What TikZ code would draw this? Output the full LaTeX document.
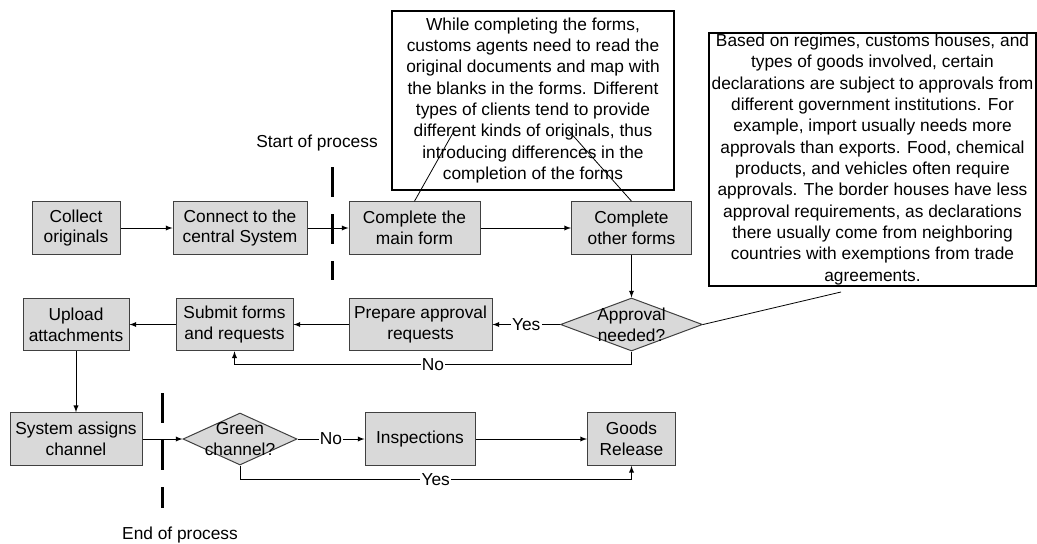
\documentclass[tikz,border=0pt]{standalone}
\usepackage{fontspec}
\setmainfont{Liberation Sans}
\usetikzlibrary{shapes,shapes.geometric,arrows,positioning}

\begin{document}
\begin{tikzpicture}[
    x=0.75pt, y=-0.75pt,
    font=\fontsize{13}{15.5}\selectfont,
    box/.style={draw=black!75, fill=gray!30, line width=0.75pt, minimum height=39.5pt, inner sep=1pt, align=center},
    decision/.style={diamond, draw=black!75, fill=gray!30, line width=0.75pt, inner sep=0pt},
    note/.style={draw, line width=1.1pt, fill=white, align=center, inner sep=0pt, font=\fontsize{13}{16}\selectfont},
    link/.style={-latex, line width=0.75pt},
    callout/.style={line width=0.6pt},
    marker/.style={line width=2.25pt, dash pattern=on 22.5pt off 12.75pt},
    lbl/.style={fill=white, inner sep=1pt}
]
\useasboundingbox (0,0) rectangle (1037,543);

\node[box, minimum width=66pt] (collect) at (76,228) {Collect\\originals};
\node[box, minimum width=100.5pt] (connect) at (240,228) {Connect to the\\central System};
\node[box, minimum width=98.25pt] (mainform) at (414.5,228) {Complete the\\main form};
\node[box, minimum width=90pt] (otherforms) at (631.5,228) {Complete\\other forms};

\node[decision, minimum width=106.5pt, minimum height=39.75pt,
      label={[align=center]center:Approval\\needed?}] (approval) at (631.5,324.5) {};
\node[box, minimum width=107.25pt] (prepare) at (420.5,324.5) {Prepare approval\\requests};
\node[box, minimum width=87.75pt] (submit) at (234.5,324.5) {Submit forms\\and requests};
\node[box, minimum width=79.5pt] (upload) at (76,324.5) {Upload\\attachments};

\node[box, minimum width=99pt] (assign) at (76,439) {System assigns\\channel};
\node[decision, minimum width=85.5pt, minimum height=39pt,
      label={[align=center]center:Green\\channel?}] (green) at (240,439) {};
\node[box, minimum width=82.5pt] (inspect) at (420,439) {Inspections};
\node[box, minimum width=66pt] (release) at (631.5,439) {Goods\\Release};

\node[note, minimum width=211.5pt, minimum height=134.25pt] (formsnote) at (533,100.5) {
While completing the forms,\\
customs agents need to read the\\
original documents and map with\\
the blanks in the forms. Different\\
types of clients tend to provide\\
different kinds of originals, thus\\
introducing differences in the\\
completion of the forms};

\node[note, minimum width=245.25pt, minimum height=189.75pt] (approvalnote) at (872.5,159.5) {
Based on regimes, customs houses, and\\
types of goods involved, certain\\
declarations are subject to approvals from\\
different government institutions. For\\
example, import usually needs more\\
approvals than exports. Food, chemical\\
products, and vehicles often require\\
approvals. The border houses have less\\
approval requirements, as declarations\\
there usually come from neighboring\\
countries with exemptions from trade\\
agreements.};

% start and end markers
\draw[marker] (332,167) -- (332,280);
\node (starttext) at (317,143) {Start of process};
\draw[marker] (162,393) -- (162,508);
\node (endtext) at (180,535) {End of process};

\coordinate (c1) at (454,131);
\coordinate (c2) at (568,130);
\coordinate (c3) at (841,292);

\draw[link] (collect) -- (connect);
\draw[link] (connect) -- (mainform);
\draw[link] (mainform) -- (otherforms);
\draw[link] (otherforms) -- (approval);
\draw[link] (approval) -- node[lbl]{Yes} (prepare);
\draw[link] (prepare) -- (submit);
\draw[link] (submit) -- (upload);
\draw[link] (approval.south) -- ++(0,13) -| node[lbl, pos=0.25]{No} (submit.south);
\draw[link] (upload) -- (assign);
\draw[link] (assign) -- (green);
\draw[link] (green) -- node[lbl]{No} (inspect);
\draw[link] (inspect) -- (release);
\draw[link] (green.south) -- ++(0,14) -| node[lbl, pos=0.25]{Yes} (release.south);

\draw[callout] (mainform.north) -- (c1);
\draw[callout] (otherforms.north) -- (c2);
\draw[callout] (approval.east) -- (c3);

\end{tikzpicture}
\end{document}
